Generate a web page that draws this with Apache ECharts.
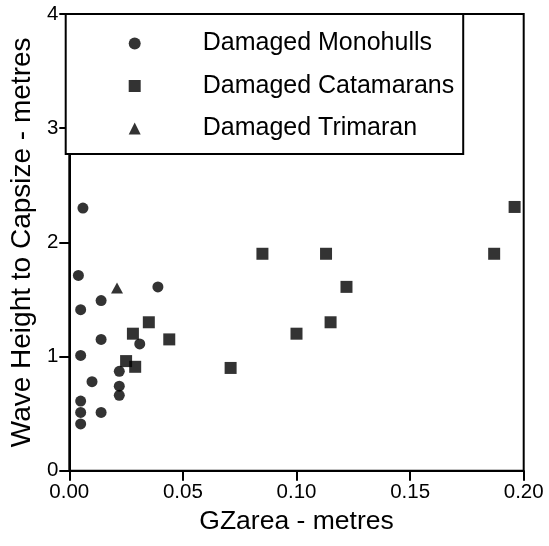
<!DOCTYPE html>
<html>
<head>
<meta charset="utf-8">
<script src="https://cdn.jsdelivr.net/npm/echarts@6/dist/echarts.min.js"></script>
<style>html,body{margin:0;padding:0;background:#fff;}#c{width:549px;height:546px;}</style>
</head>
<body>
<div id="c"></div>
<script>
const xTitle = 'GZarea - metres';
const yTitle = 'Wave Height to Capsize - metres';
const seriesNames = ['Damaged Monohulls', 'Damaged Catamarans', 'Damaged Trimaran'];

const monohulls = [
  [0.006, 2.30], [0.004, 1.71], [0.005, 1.41], [0.014, 1.49], [0.039, 1.61],
  [0.014, 1.15], [0.005, 1.01], [0.031, 1.11], [0.010, 0.78], [0.022, 0.87],
  [0.022, 0.74], [0.022, 0.66], [0.005, 0.61], [0.005, 0.51], [0.005, 0.41],
  [0.014, 0.51]
];
const catamarans = [
  [0.035, 1.30], [0.028, 1.20], [0.044, 1.15], [0.025, 0.96], [0.029, 0.91],
  [0.071, 0.90], [0.085, 1.90], [0.100, 1.20], [0.113, 1.90], [0.115, 1.30],
  [0.122, 1.61], [0.187, 1.90], [0.196, 2.31]
];
const trimaran = [
  [0.021, 1.60]
];

const FONT = '"Liberation Sans", Arial, Helvetica, sans-serif';
const chart = echarts.init(document.getElementById('c'), null, {renderer: 'canvas'});
chart.setOption({
  animation: false,
  backgroundColor: '#fff',
  grid: {
    left: 65.7, right: 25.3, top: 14, bottom: 75.3,
    show: true, borderColor: '#000', borderWidth: 2, backgroundColor: 'transparent'
  },
  legend: {
    orient: 'vertical',
    left: 65.7, top: 14,
    padding: [17, 9, 13, 63],
    itemGap: 17.5,
    itemWidth: 12, itemHeight: 12,
    symbolKeepAspect: true,
    borderColor: '#000', borderWidth: 2,
    backgroundColor: '#fff',
    data: seriesNames,
    formatter: function (n) { return '{t|' + n + '}'; },
    textStyle: {
      color: '#000',
      rich: { t: { fontSize: 25, fontFamily: FONT, color: '#000', lineHeight: 30, padding: [0, 0, 0, 57] } }
    }
  },
  xAxis: {
    type: 'value', min: 0, max: 0.2, interval: 0.05,
    name: xTitle, nameLocation: 'middle', nameGap: 37,
    nameTextStyle: { fontSize: 26.5, fontFamily: FONT, color: '#000' },
    axisLine: { show: true, onZero: false, lineStyle: { color: '#000', width: 2 } },
    axisTick: { show: true, inside: false, length: 10, lineStyle: { color: '#000', width: 2 } },
    axisLabel: { fontSize: 20.5, fontFamily: FONT, color: '#000', margin: 11,
      formatter: function (v) { return v.toFixed(2); } },
    splitLine: { show: false }
  },
  yAxis: {
    type: 'value', min: 0, max: 4, interval: 1,
    name: yTitle, nameLocation: 'middle', nameGap: 32,
    nameTextStyle: { fontSize: 28, fontFamily: FONT, color: '#000' },
    axisLine: { show: true, onZero: false, lineStyle: { color: '#000', width: 2 } },
    axisTick: { show: true, inside: false, length: 10, lineStyle: { color: '#000', width: 2 } },
    axisLabel: { fontSize: 20.5, fontFamily: FONT, color: '#000', margin: 11 },
    splitLine: { show: false }
  },
  series: [
    { name: seriesNames[0], type: 'scatter', symbol: 'circle', symbolSize: 11,
      itemStyle: { color: '#000' }, data: monohulls },
    { name: seriesNames[1], type: 'scatter', symbol: 'rect', symbolSize: 12,
      itemStyle: { color: '#000' }, data: catamarans },
    { name: seriesNames[2], type: 'scatter', symbol: 'triangle', symbolSize: [12, 11],
      itemStyle: { color: '#000' }, data: trimaran }
  ]
});
</script>
</body>
</html>
